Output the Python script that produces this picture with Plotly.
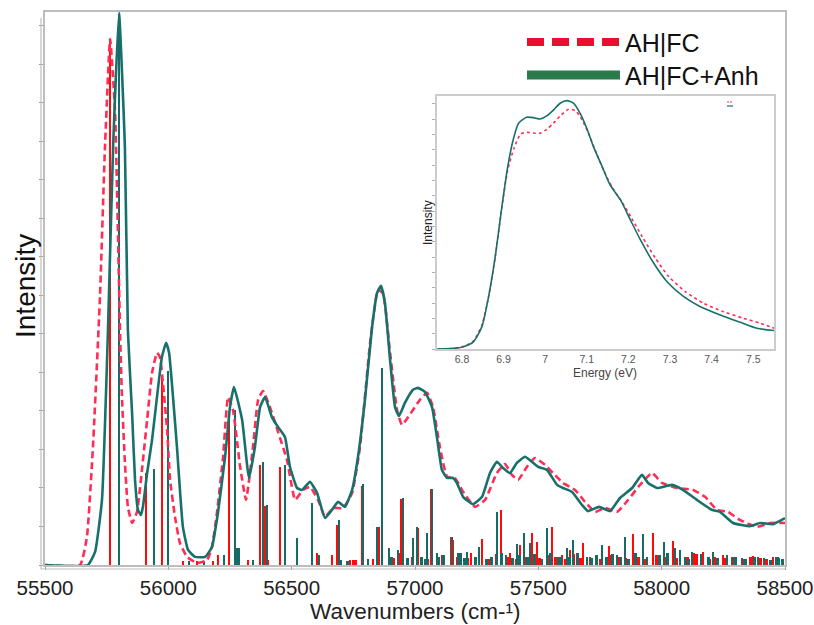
import plotly.graph_objects as go

# ---------------- main spectrum data ----------------
anh_x = [55500, 55674, 55703, 55731, 55755, 55776, 55800, 55824, 55836, 55853, 55865, 55877, 55889, 55897,
         55914, 55934, 55954, 55974, 55991, 56003, 56019, 56035, 56047, 56059, 56080, 56108, 56149, 56177,
         56201, 56230, 56250, 56266, 56299, 56327,
         56351, 56372, 56392, 56420, 56445, 56473, 56493, 56522, 56542, 56574, 56603, 56635, 56663, 56688,
         56716, 56745, 56769, 56797, 56826, 56846, 56862, 56878, 56899, 56919, 56935, 56959, 56992, 57012,
         57041, 57069, 57089, 57109, 57130, 57154, 57170, 57195, 57235, 57272, 57304, 57332, 57357, 57385,
         57413, 57446, 57474, 57499, 57535, 57576, 57600, 57636, 57677, 57701, 57746, 57791, 57831, 57880,
         57920, 57945, 57981, 58042, 58086, 58143, 58204, 58236, 58289, 58358, 58399, 58451, 58500]
anh_y = [0, 0, 0.34, 1.69, 6.03, 10.83, 14.34, 10.83, 6.10, 3.95, 2.21, 1.43, 1.30, 1.51,
         2.39, 3.25, 4.36, 5.40, 5.77, 5.51, 4.36, 3.06, 1.95, 0.99, 0.39, 0.21, 0.21, 0.47,
         1.35, 2.81, 4.10, 4.62, 3.77, 2.26,
         3.06, 4.10, 4.36, 3.84, 3.58, 3.32, 2.55, 2.00, 1.95, 2.16, 1.87, 1.22, 1.43, 1.64,
         1.51, 1.95, 2.81, 4.29, 6.18, 7.06, 7.25, 6.81, 5.32, 4.10, 3.87, 4.21, 4.55, 4.60,
         4.49, 4.10, 3.32, 2.47, 2.26, 2.26, 2.13, 1.77, 1.58, 1.77, 2.39, 2.68, 2.52, 2.39,
         2.65, 2.81, 2.68, 2.55, 2.47, 2.08, 2.00, 1.90, 1.56, 1.40, 1.51, 1.40, 1.74, 2.00,
         2.34, 2.13, 2.00, 2.08, 1.95, 1.69, 1.43, 1.38, 1.09, 1.01, 1.09, 1.06, 1.22]

fc_x = [55500, 55642, 55670, 55695, 55723, 55743, 55764, 55784, 55804, 55812, 55824, 55836, 55853, 55873,
        55893, 55914, 55934, 55954, 55966, 55978, 55995, 56007, 56027, 56047, 56076, 56116, 56157, 56177,
        56197, 56222, 56242, 56262, 56291, 56315, 56343,
        56364, 56384, 56412, 56445, 56481, 56514, 56546, 56574, 56607, 56635, 56668, 56708, 56745, 56777,
        56818, 56850, 56870, 56899, 56927, 56947, 56972, 57020, 57049, 57073, 57101, 57130, 57162, 57195,
        57243, 57284, 57332, 57365, 57393, 57418, 57454, 57486, 57527, 57559, 57600, 57649, 57689, 57730,
        57770, 57819, 57864, 57912, 57961, 58001, 58062, 58127, 58176, 58224, 58269, 58317, 58386, 58439,
        58500]
fc_y = [0, 0, 0.73, 3.14, 6.99, 10.83, 13.66, 11.79, 6.10, 4.36, 2.65, 1.51, 1.09, 1.38,
        2.47, 3.77, 4.99, 5.51, 5.40, 4.73, 3.51, 2.21, 1.25, 0.57, 0.21, 0.05, 0.13, 0.47,
        1.35, 2.81, 4.36, 4.03, 2.55, 1.69, 3.06,
        4.29, 4.52, 4.10, 3.45, 2.73, 1.69, 1.95, 2.03, 1.69, 1.25, 1.48, 1.48, 1.87, 3.06,
        5.77, 7.14, 7.06, 5.51, 4.03, 3.64, 3.84, 4.29, 4.47, 4.10, 3.06, 2.29, 2.26, 1.90,
        1.51, 1.69, 2.39, 2.62, 2.34, 2.21, 2.55, 2.78, 2.60, 2.39, 2.13, 1.95, 1.64, 1.38,
        1.48, 1.38, 1.69, 2.08, 2.39, 2.13, 2.00, 1.95, 1.77, 1.43, 1.38, 1.17, 0.99, 1.09,
        1.09]

# stick spectra
fc_stick_x = [55764, 55909, 55974, 56059, 56116, 56181, 56201, 56246, 56323, 56372, 56392, 56404, 56453,
              56603, 56663, 56684, 56736, 56752, 56785, 56854, 56939, 56943, 57012, 57065, 57146, 57154,
              57186, 57227, 57272, 57349, 57385, 57426, 57474, 57495, 57555, 57596, 57628, 57681, 57786,
              57884, 57965, 58046, 58131, 58168, 58249, 58370, 58451, 58492,
              56690, 56760, 56830, 56915, 56990, 57050, 57110, 57170, 57215, 57260, 57300, 57330, 57375,
              57410, 57445, 57505, 57540, 57570, 57610, 57645, 57670, 57710, 57750, 57790, 57825, 57855,
              57905, 57930, 57980, 58015, 58060, 58105, 58140, 58195, 58215, 58255, 58290, 58330, 58360,
              58400, 58425, 58470]
fc_stick_h = [13.66, 2.40, 4.86, 0.10, 0.10, 0.10, 0.26, 3.90, 0.13, 2.60, 1.53, 0.13, 2.55,
              0.31, 0.26, 1.04, 0.13, 0.13, 2.05, 0.99, 0.31, 1.71, 0.96, 1.97, 0.73, 0.65,
              0.26, 0.31, 0.68, 1.43, 0.31, 0.52, 0.83, 0.60, 0.99, 0.26, 0.39, 0.57, 0.49,
              0.81, 0.83, 0.62, 0.31, 0.34, 0.26, 0.23, 0.21, 0.13,
              0.10, 0.12, 0.15, 0.18, 0.20, 0.15, 0.25, 0.20, 0.18, 0.22, 0.15, 0.28, 0.20,
              0.15, 0.22, 0.18, 0.25, 0.20, 0.15, 0.28, 0.18, 0.22, 0.15, 0.25, 0.20, 0.18,
              0.22, 0.15, 0.25, 0.20, 0.18, 0.22, 0.28, 0.15, 0.20, 0.18, 0.22, 0.15, 0.20,
              0.18, 0.15, 0.20]

anh_stick_x = [55800, 55942, 55999, 56084, 56145, 56226, 56270, 56278, 56286, 56343, 56384, 56400, 56473,
               56522, 56582, 56611, 56692, 56789, 56846, 56866, 56895, 56931, 56951, 56992, 57008, 57049,
               57069, 57089, 57150, 57174, 57211, 57259, 57332, 57369, 57413, 57442, 57466, 57535, 57580,
               57616, 57641, 57697, 57758, 57819, 57851, 57924, 58009, 58054, 58074, 58123, 58208, 58285,
               58326, 58390, 58475,
               56700, 56725, 56810, 56905, 56970, 57025, 57040, 57095, 57115, 57185, 57200, 57245, 57290,
               57310, 57350, 57395, 57425, 57455, 57485, 57515, 57550, 57590, 57625, 57660, 57715, 57735,
               57775, 57800, 57835, 57865, 57895, 57940, 57990, 58025, 58095, 58110, 58160, 58190, 58225,
               58265, 58300, 58340, 58375, 58415, 58440, 58465, 58490]
anh_stick_h = [14.3, 2.50, 5.03, 0.10, 0.10, 0.26, 4.03, 0.44, 0.44, 0.13, 2.68, 1.56, 2.60,
               0.70, 1.61, 0.26, 1.17, 2.10, 0.99, 5.12, 0.44, 0.39, 1.74, 0.70, 0.99, 0.83,
               1.97, 0.31, 0.73, 0.31, 0.34, 0.47, 1.38, 0.26, 0.55, 0.83, 0.57, 0.96, 0.21,
               0.44, 0.65, 0.21, 0.52, 0.26, 0.73, 0.81, 0.60, 0.44, 0.39, 0.34, 0.34, 0.21,
               0.18, 0.21, 0.18,
               0.12, 0.10, 0.15, 0.20, 0.18, 0.22, 0.15, 0.20, 0.25, 0.30, 0.18, 0.22, 0.15,
               0.20, 0.30, 0.18, 0.25, 0.20, 0.28, 0.15, 0.30, 0.20, 0.22, 0.30, 0.18, 0.25,
               0.20, 0.28, 0.20, 0.15, 0.30, 0.20, 0.25, 0.30, 0.20, 0.15, 0.28, 0.20, 0.18,
               0.25, 0.20, 0.15, 0.22, 0.18, 0.12, 0.20, 0.15]

x_ticks = [55500, 56000, 56500, 57000, 57500, 58000, 58500]

# ---------------- inset data ----------------
inset_anh_x = [6.741, 6.780, 6.804, 6.828, 6.848, 6.864, 6.880, 6.896, 6.910, 6.923, 6.936, 6.955, 6.972,
               6.988, 7.004, 7.020, 7.036, 7.052, 7.068, 7.084, 7.100, 7.116, 7.137, 7.156, 7.181, 7.205,
               7.229, 7.261, 7.293, 7.333, 7.373, 7.421, 7.469, 7.509, 7.551]
inset_anh_y = [0, 0.04, 0.15, 0.48, 1.46, 3.41, 6.02, 9.28, 11.89, 13.63, 14.72, 15.11, 15.09,
               15.0, 15.2, 15.59, 16.03, 16.2, 16.03, 15.37, 14.4, 13.2, 11.89, 10.7, 9.72, 8.41,
               7.11, 5.59, 4.39, 3.41, 2.76, 2.22, 1.74, 1.35, 1.20]
inset_fc_x = [6.741, 6.780, 6.808, 6.828, 6.848, 6.864, 6.880, 6.896, 6.910, 6.925, 6.941, 6.957, 6.977,
              6.988, 7.004, 7.020, 7.036, 7.056, 7.072, 7.088, 7.104, 7.120, 7.140, 7.160, 7.184, 7.208,
              7.233, 7.265, 7.297, 7.337, 7.381, 7.429, 7.477, 7.517, 7.551]
inset_fc_y = [0, 0.04, 0.20, 0.54, 1.57, 3.41, 6.02, 9.28, 11.68, 13.09, 14.02, 14.13, 14.07,
              14.07, 14.33, 14.72, 15.2, 15.63, 15.55, 14.98, 14.07, 12.98, 11.68, 10.59, 9.61, 8.52,
              7.33, 5.92, 4.72, 3.74, 2.98, 2.43, 2.0, 1.68, 1.35]
inset_ticks = [6.8, 6.9, 7.0, 7.1, 7.2, 7.3, 7.4, 7.5]

legend_labels = ["AH|FC", "AH|FC+Anh"]

# ---------------- styling ----------------
FONT = "Liberation Sans, Arial, sans-serif"
RED_STICK = "#ff0a0a"
GREEN_STICK = "#176b66"
RED_LINE = "#ff2d55"
GREEN_LINE = "#18706b"
FRAME = "#bdbdbd"

W, H = 814, 625
L, R, T, B = 45, 29, 12, 60
PW, PH = W - L - R, H - T - B


def px2x(px):
    return (px - L) / PW


def py2y(py):
    return (H - B - py) / PH


fig = go.Figure()

fig.add_trace(go.Bar(x=fc_stick_x, y=fc_stick_h, width=11, marker=dict(color=RED_STICK, line_width=0),
                     showlegend=False, xaxis="x", yaxis="y"))
fig.add_trace(go.Bar(x=anh_stick_x, y=anh_stick_h, width=11, marker=dict(color=GREEN_STICK, line_width=0),
                     showlegend=False, xaxis="x", yaxis="y"))
fig.add_trace(go.Scatter(x=fc_x, y=fc_y, mode="lines", name=legend_labels[0],
                         line=dict(color=RED_LINE, width=2.6, dash="7px,4px", shape="spline", smoothing=0.4),
                         showlegend=False))
fig.add_trace(go.Scatter(x=anh_x, y=anh_y, mode="lines", name=legend_labels[1],
                         line=dict(color=GREEN_LINE, width=2.6, shape="spline", smoothing=0.4),
                         showlegend=False))

# inset traces
fig.add_trace(go.Scatter(x=inset_fc_x, y=inset_fc_y, mode="lines", xaxis="x2", yaxis="y2",
                         line=dict(color=RED_LINE, width=1.6, dash="dot", shape="spline", smoothing=0.6),
                         showlegend=False))
fig.add_trace(go.Scatter(x=inset_anh_x, y=inset_anh_y, mode="lines", xaxis="x2", yaxis="y2",
                         line=dict(color=GREEN_LINE, width=1.6, shape="spline", smoothing=0.6),
                         showlegend=False))

inset_dom_x = [px2x(437), px2x(774)]
inset_dom_y = [py2y(349), py2y(96)]

fig.update_layout(
    template="none",
    width=W, height=H,
    margin=dict(l=L, r=R, t=T, b=B, pad=0),
    paper_bgcolor="white", plot_bgcolor="white",
    barmode="overlay", bargap=0,
    showlegend=False,
    font=dict(family=FONT, color="#222222"),
    xaxis=dict(range=[55500, 58500], tickvals=x_ticks, ticktext=[str(v) for v in x_ticks],
               ticks="outside", ticklen=3, tickcolor="#9a9a9a", tickwidth=1,
               ticklabeloverflow="allow",
               showline=True, linecolor=FRAME, linewidth=2, mirror=True,
               showgrid=False, zeroline=False, automargin=False,
               tickfont=dict(size=20.5, color="#222222", family=FONT), domain=[0, 1]),
    yaxis=dict(range=[0, 14.36], dtick=1, tick0=0, showticklabels=False,
               ticks="outside", ticklen=4, tickcolor="#9a9a9a", tickwidth=1,
               showline=True, linecolor=FRAME, linewidth=2, mirror=True,
               showgrid=False, zeroline=False, automargin=False, domain=[0, 1]),
    xaxis2=dict(domain=inset_dom_x, anchor="y2", range=[6.74, 7.55], tickvals=inset_ticks,
                ticktext=["6.8", "6.9", "7", "7.1", "7.2", "7.3", "7.4", "7.5"],
                ticks="", showline=True, linecolor="#cccccc", linewidth=1.5, mirror=True,
                showgrid=False, zeroline=False, automargin=False,
                tickfont=dict(size=10.5, color="#555555", family=FONT)),
    yaxis2=dict(domain=inset_dom_y, anchor="x2", range=[0, 16.5], dtick=1, tick0=0,
                showticklabels=False, ticks="outside", ticklen=3, tickcolor="#b0b0b0",
                showline=True, linecolor="#cccccc", linewidth=1.5, mirror=True,
                showgrid=False, zeroline=False, automargin=False),
)

shapes = [
    # second (outer) left axis line
    dict(type="line", xref="paper", yref="paper", x0=px2x(41), x1=px2x(41), y0=py2y(569), y1=py2y(18),
         line=dict(color=FRAME, width=1.2)),
    # second (outer) bottom axis line
    dict(type="line", xref="paper", yref="paper", x0=px2x(41), x1=px2x(785), y0=py2y(569), y1=py2y(569),
         line=dict(color=FRAME, width=1.2)),
    # main legend samples
    dict(type="line", xref="paper", yref="paper", x0=px2x(527), x1=px2x(620), y0=py2y(42), y1=py2y(42),
         line=dict(color="#e8102f", width=8, dash="17px,8px")),
    dict(type="line", xref="paper", yref="paper", x0=px2x(527), x1=px2x(620), y0=py2y(75), y1=py2y(75),
         line=dict(color="#2a7a4b", width=9)),
    # inset tiny legend
    dict(type="line", xref="paper", yref="paper", x0=px2x(727), x1=px2x(733), y0=py2y(102), y1=py2y(102),
         line=dict(color=RED_LINE, width=1.2, dash="2px,1px")),
    dict(type="line", xref="paper", yref="paper", x0=px2x(727), x1=px2x(733), y0=py2y(106), y1=py2y(106),
         line=dict(color=GREEN_LINE, width=1.2)),
]
fig.update_layout(shapes=shapes)

annotations = [
    dict(text=legend_labels[0], xref="paper", yref="paper", x=px2x(623), y=py2y(43), xanchor="left",
         yanchor="middle", showarrow=False, font=dict(size=25, color="#111111", family=FONT)),
    dict(text=legend_labels[1], xref="paper", yref="paper", x=px2x(623), y=py2y(76), xanchor="left",
         yanchor="middle", showarrow=False, font=dict(size=25, color="#111111", family=FONT)),
    dict(text="Wavenumbers (cm-¹)", xref="paper", yref="paper", x=0.5, y=py2y(611), xanchor="center",
         yanchor="middle", showarrow=False, font=dict(size=22.5, color="#222222", family=FONT)),
    dict(text="Intensity", xref="paper", yref="paper", x=px2x(25), y=py2y(286), xanchor="center",
         yanchor="middle", textangle=-90, showarrow=False, font=dict(size=28, color="#111111", family=FONT)),
    dict(text="Energy (eV)", xref="paper", yref="paper", x=px2x(605), y=py2y(373), xanchor="center",
         yanchor="middle", showarrow=False, font=dict(size=12, color="#444444", family=FONT)),
    dict(text="Intensity", xref="paper", yref="paper", x=px2x(428), y=py2y(223), xanchor="center",
         yanchor="middle", textangle=-90, showarrow=False, font=dict(size=12, color="#222222", family=FONT)),
]
fig.update_layout(annotations=annotations)

fig.write_html("out.html")
